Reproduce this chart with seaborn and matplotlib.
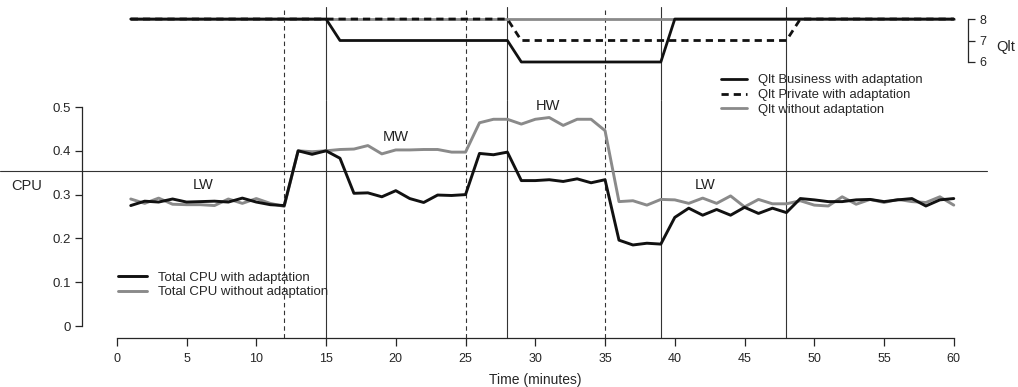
import numpy as np
import pandas as pd
import seaborn as sns
import matplotlib.pyplot as plt

sns.set_style('ticks')
plt.rcParams['font.family'] = ['Liberation Sans', 'DejaVu Sans']

# time in minutes
minutes = list(range(1, 61))

# Total CPU with / without adaptation
cpu_adapt = [0.275, 0.285, 0.283, 0.290, 0.283, 0.284, 0.285, 0.283, 0.292, 0.283,
             0.277, 0.275, 0.400, 0.392, 0.400, 0.383, 0.303, 0.304, 0.295, 0.309,
             0.291, 0.282, 0.299, 0.298, 0.300, 0.394, 0.391, 0.397, 0.332, 0.332,
             0.334, 0.330, 0.336, 0.327, 0.334, 0.196, 0.185, 0.189, 0.187, 0.248,
             0.269, 0.253, 0.266, 0.253, 0.271, 0.257, 0.269, 0.259, 0.291, 0.288,
             0.284, 0.284, 0.288, 0.289, 0.284, 0.288, 0.291, 0.274, 0.288, 0.291]
cpu_noadapt = [0.290, 0.280, 0.292, 0.278, 0.277, 0.277, 0.275, 0.290, 0.280, 0.291,
               0.280, 0.273, 0.400, 0.398, 0.400, 0.403, 0.404, 0.412, 0.393, 0.402,
               0.402, 0.403, 0.403, 0.397, 0.397, 0.464, 0.472, 0.472, 0.461, 0.472,
               0.476, 0.458, 0.472, 0.472, 0.446, 0.284, 0.286, 0.276, 0.289, 0.288,
               0.280, 0.292, 0.280, 0.297, 0.272, 0.289, 0.279, 0.279, 0.286, 0.276,
               0.274, 0.295, 0.278, 0.289, 0.282, 0.289, 0.284, 0.282, 0.295, 0.276]

# Qlt levels
qlt_business = [8] * 15 + [7] * 13 + [6] * 11 + [8] * 21
qlt_private = [8] * 28 + [7] * 20 + [8] * 12
qlt_none = [8] * 60

workload_labels = [(6.2, 0.322, 'LW'), (20.0, 0.431, 'MW'), (30.9, 0.503, 'HW'), (42.2, 0.322, 'LW')]
workload_changes = [12, 25, 35]
adaptations = [15, 28, 39, 48]
threshold = 0.355

black = '#111111'
gray = '#8a8a8a'
xlim = (-2.49, 61.02)
narrow = ['Liberation Sans Narrow', 'Liberation Sans', 'DejaVu Sans']

fig = plt.figure(figsize=(10.18, 3.87), dpi=100)
ax_q = fig.add_axes([0.0806, 0.7416, 0.8703, 0.2403])
ax = fig.add_axes([0.0806, 0.1266, 0.8703, 0.615])

# ---- Qlt panel
sns.lineplot(x=minutes, y=qlt_none, ax=ax_q, color=gray, lw=2, label='Qlt without adaptation')
sns.lineplot(x=minutes, y=qlt_private, ax=ax_q, color=black, lw=2, label='Qlt Private with adaptation')
ax_q.lines[-1].set_dashes((2.6, 1.8))
sns.lineplot(x=minutes, y=qlt_business, ax=ax_q, color=black, lw=2, label='Qlt Business with adaptation')
ax_q.set_xlim(*xlim)
ax_q.set_ylim(4.23, 8.56)
for s in ['top', 'left', 'bottom']:
    ax_q.spines[s].set_visible(False)
ax_q.spines['right'].set_bounds(6, 8)
ax_q.spines['right'].set_linewidth(0.9)
ax_q.yaxis.tick_right()
ax_q.set_yticks([6, 7, 8])
ax_q.set_xticks([])
ax_q.tick_params(axis='y', direction='out', length=5, width=0.9, labelsize=9, pad=3)
ax_q.set_ylabel('Qlt', rotation=0, fontsize=10.5, va='center', ha='center')
ax_q.yaxis.set_label_position('right')
ax_q.yaxis.set_label_coords(1.043, 0.645)
h, l = ax_q.get_legend_handles_labels()
ax_q.legend(h[::-1], l[::-1], loc='upper left', bbox_to_anchor=(716 / 1018, 1 - 69 / 387),
            bbox_transform=fig.transFigure, frameon=False, fontsize=9.4, handlelength=2.0,
            handletextpad=0.8, labelspacing=0.2, borderaxespad=0)
ax_q.patch.set_alpha(0)

# ---- CPU panel
sns.lineplot(x=minutes, y=cpu_noadapt, ax=ax, color=gray, lw=2.1, label='Total CPU without adaptation')
sns.lineplot(x=minutes, y=cpu_adapt, ax=ax, color=black, lw=2.1, label='Total CPU with adaptation')
ax.set_xlim(*xlim)
ax.set_ylim(-0.0274, 0.516)
sns.despine(ax=ax)
ax.spines['left'].set_bounds(0, 0.5)
ax.spines['bottom'].set_bounds(0, 60)
for s in ['left', 'bottom']:
    ax.spines[s].set_linewidth(0.9)
ax.set_yticks([0, 0.1, 0.2, 0.3, 0.4, 0.5])
ax.set_yticklabels(['0', '0.1', '0.2', '0.3', '0.4', '0.5'])
ax.set_xticks(range(0, 61, 5))
ax.tick_params(axis='y', direction='out', length=5, width=0.9, labelsize=9.5, pad=3)
ax.tick_params(axis='x', direction='out', length=6, width=0.9, labelsize=9, pad=5)
for t in ax.get_xticklabels():
    t.set_family(narrow)
ax.set_ylabel('CPU', rotation=0, fontsize=10.5, va='center', ha='center')
ax.yaxis.set_label_coords(-0.063, 0.639)
ax.set_xlabel('Time (minutes)', fontsize=10, family=narrow, va='center')
ax.xaxis.set_label_coords(0.511, -0.176)
h, l = ax.get_legend_handles_labels()
ax.legend(h[::-1], l[::-1], loc='upper left', bbox_to_anchor=(113 / 1018, 1 - 266 / 387),
          bbox_transform=fig.transFigure, frameon=False, fontsize=9.5, handlelength=2.2,
          handletextpad=0.8, labelspacing=0.2, borderaxespad=0)
ax.patch.set_alpha(0)

for x, y, txt in workload_labels:
    ax.text(x, y, txt, fontsize=10.5, ha='center', va='center', color='#222222')

# vertical markers across both panels
for a in (ax_q, ax):
    for x in workload_changes:
        a.axvline(x, color='#333333', lw=0.8, ls=(0, (4, 3)), zorder=0)
    for x in adaptations:
        a.axvline(x, color='#333333', lw=0.8, zorder=0)

ax.axhline(threshold, xmin=-82 / 886, xmax=(987 - 82) / 886, color='#333333', lw=0.8,
           clip_on=False, zorder=0)

fig.savefig('out.png', dpi=100)
